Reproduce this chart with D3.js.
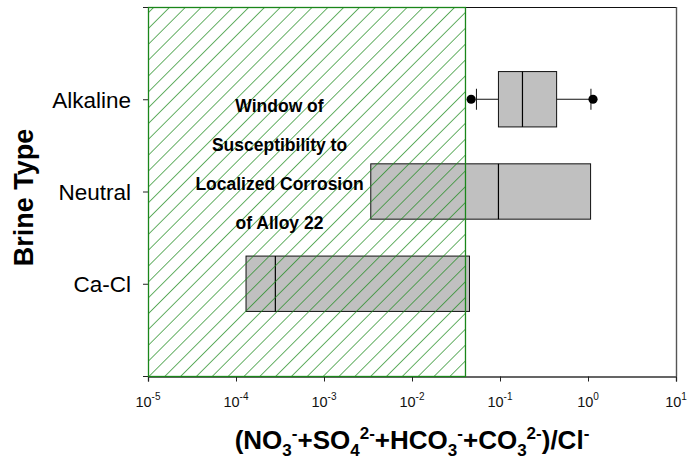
<!DOCTYPE html>
<html>
<head>
<meta charset="utf-8">
<script src="https://cdn.jsdelivr.net/npm/d3@7"></script>
<style>
  html, body { margin: 0; padding: 0; background: #fff; }
  svg { display: block; font-family: "Liberation Sans", Arial, sans-serif; }
</style>
</head>
<body>
<svg id="chart" width="687" height="459"></svg>
<script>
// Brine types, top to bottom
const categories = ["Alkaline", "Neutral", "Ca-Cl"];
// Box statistics of the anion ratio for each brine type
const q1Values      = [0.096, 0.0034, 0.00013];
const medianValues  = [0.18, 0.096, 0.00028];
const q3Values      = [0.44, 1.07, 0.045];
const whiskerLow    = [0.054, 0.0034, 0.00013];
const whiskerHigh   = [1.08, 1.07, 0.045];
// Individual points beyond the whiskers: [brine index, value]
const outlierPoints = [[0, 0.047], [0, 1.14]];
// Ratio range of the susceptibility window
const windowRange = [1e-5, 0.04];
const windowLines = ["Window of", "Susceptibility to", "Localized Corrosion", "of Alloy 22"];
// Decade exponents shown on the ratio axis
const tickExponents = [-5, -4, -3, -2, -1, 0, 1];

const svg = d3.select("#chart");
const plot = { left: 148, right: 676, top: 7, bottom: 376 };

const x = d3.scaleLog().domain([1e-5, 10]).range([plot.left, plot.right]);
const y = d3.scaleLinear().domain([0, 4]).range([plot.top, plot.bottom]);
const boxH = 0.6; // box height in category units

// Hatch pattern for the susceptibility window
const defs = svg.append("defs");
const pat = defs.append("pattern")
  .attr("id", "hatch")
  .attr("patternUnits", "userSpaceOnUse")
  .attr("width", 11.2).attr("height", 11.2)
  .attr("patternTransform", "translate(2,0) rotate(45)");
pat.append("line")
  .attr("x1", 0).attr("y1", -1).attr("x2", 0).attr("y2", 12.2)
  .attr("stroke", "#1d8a1d").attr("stroke-width", 1.35);

// Frame: top and right borders
svg.append("line")
  .attr("x1", plot.left).attr("x2", plot.right + 0.5)
  .attr("y1", plot.top + 0.5).attr("y2", plot.top + 0.5)
  .attr("stroke", "#111").attr("stroke-width", 1);
svg.append("line")
  .attr("x1", plot.right + 0.5).attr("x2", plot.right + 0.5)
  .attr("y1", plot.top).attr("y2", plot.bottom)
  .attr("stroke", "#555").attr("stroke-width", 1.4);

// Bottom axis (log ratio)
const tickValues = tickExponents.map(e => Math.pow(10, e));
const xAxis = svg.append("g")
  .attr("transform", `translate(0,${plot.bottom + 0.5})`)
  .call(d3.axisBottom(x).tickValues(tickValues).tickSize(5).tickFormat(""));
xAxis.select(".domain").attr("stroke", "#333").attr("stroke-width", 1.3);
xAxis.selectAll(".tick line").attr("stroke", "#222");

const xLabels = svg.append("g")
  .attr("font-size", 14.5).attr("fill", "#111");
tickExponents.forEach((e, i) => {
  const t = xLabels.append("text")
    .attr("x", x(tickValues[i]))
    .attr("y", 406.5)
    .attr("text-anchor", "middle");
  t.append("tspan").text("10");
  t.append("tspan").attr("font-size", 10).attr("dy", -6.5).text(e < 0 ? "-" + Math.abs(e) : String(e));
});

// Left axis (brine types)
const yAxis = svg.append("g")
  .attr("transform", `translate(${plot.left},0)`)
  .call(d3.axisLeft(y).tickValues([1, 2, 3]).tickSize(5).tickPadding(12)
    .tickFormat(i => categories[i - 1]));
yAxis.select(".domain").attr("stroke", "#222");
yAxis.selectAll(".tick line").attr("stroke", "#222");
yAxis.selectAll(".tick text")
  .attr("font-size", 22.5)
  .attr("font-family", "Liberation Sans, Arial, sans-serif")
  .attr("fill", "#000")
  .attr("dy", "0.36em");

// Box plots
const boxes = svg.append("g");
categories.forEach((c, i) => {
  const cy = y(i + 1);
  const top = y(i + 1 - boxH / 2), bot = y(i + 1 + boxH / 2);
  if (whiskerLow[i] < q1Values[i]) {
    boxes.append("line")
      .attr("x1", x(whiskerLow[i])).attr("x2", x(q1Values[i]))
      .attr("y1", cy).attr("y2", cy).attr("stroke", "#111");
    boxes.append("line")
      .attr("x1", x(whiskerLow[i])).attr("x2", x(whiskerLow[i]))
      .attr("y1", cy - 10.5).attr("y2", cy + 10.5).attr("stroke", "#111");
  }
  if (whiskerHigh[i] > q3Values[i]) {
    boxes.append("line")
      .attr("x1", x(q3Values[i])).attr("x2", x(whiskerHigh[i]))
      .attr("y1", cy).attr("y2", cy).attr("stroke", "#111");
    boxes.append("line")
      .attr("x1", x(whiskerHigh[i])).attr("x2", x(whiskerHigh[i]))
      .attr("y1", cy - 10.5).attr("y2", cy + 10.5).attr("stroke", "#111");
  }
  boxes.append("rect")
    .attr("x", x(q1Values[i])).attr("y", top)
    .attr("width", x(q3Values[i]) - x(q1Values[i]))
    .attr("height", bot - top)
    .attr("fill", "#c0c0c0").attr("stroke", "#111").attr("stroke-width", 1);
  boxes.append("line")
    .attr("x1", x(medianValues[i])).attr("x2", x(medianValues[i]))
    .attr("y1", top).attr("y2", bot)
    .attr("stroke", "#000").attr("stroke-width", 1.2);
});
boxes.selectAll("circle.out")
  .data(outlierPoints).enter().append("circle")
  .attr("class", "out")
  .attr("cx", d => x(d[1])).attr("cy", d => y(d[0] + 1))
  .attr("r", 4.6).attr("fill", "#000");

// Susceptibility window (hatched region)
svg.append("rect")
  .attr("x", x(windowRange[0]) + 0.5)
  .attr("y", plot.top + 0.5)
  .attr("width", x(windowRange[1]) - x(windowRange[0]))
  .attr("height", plot.bottom - plot.top)
  .attr("fill", "url(#hatch)")
  .attr("stroke", "#1a861a").attr("stroke-width", 1.3);

// Window annotation
const winText = svg.append("g")
  .attr("font-size", 17.5).attr("font-weight", "bold").attr("fill", "#000")
  .attr("text-anchor", "middle");
winText.selectAll("text").data(windowLines).enter().append("text")
  .attr("x", 279.5)
  .attr("y", (d, i) => 111.5 + i * 39.3)
  .text(d => d);

// Axis titles
svg.append("text")
  .attr("transform", "translate(33,197.5) rotate(-90)")
  .attr("text-anchor", "middle")
  .attr("font-size", 27).attr("font-weight", "bold").attr("fill", "#000")
  .text("Brine Type");

const title = svg.append("text")
  .attr("x", (plot.left + plot.right) / 2)
  .attr("y", 449)
  .attr("text-anchor", "middle")
  .attr("font-size", 26).attr("font-weight", "bold").attr("fill", "#000");
const parts = [
  ["(NO", 0], ["3", 1], ["-", 2], ["+SO", 3], ["4", 1], ["2-", 2],
  ["+HCO", 3], ["3", 1], ["-", 2], ["+CO", 3], ["3", 1], ["2-", 2], [")/Cl", 3], ["-", 2]
];
// 0 = first normal run, 1 = subscript, 2 = superscript, 3 = back to baseline
let level = 0;
parts.forEach(([s, kind]) => {
  const ts = title.append("tspan").text(s);
  const target = kind === 1 ? 7 : kind === 2 ? -10 : 0;
  if (kind === 1 || kind === 2) ts.attr("font-size", 17);
  ts.attr("dy", target - level);
  level = target;
});
</script>
</body>
</html>
